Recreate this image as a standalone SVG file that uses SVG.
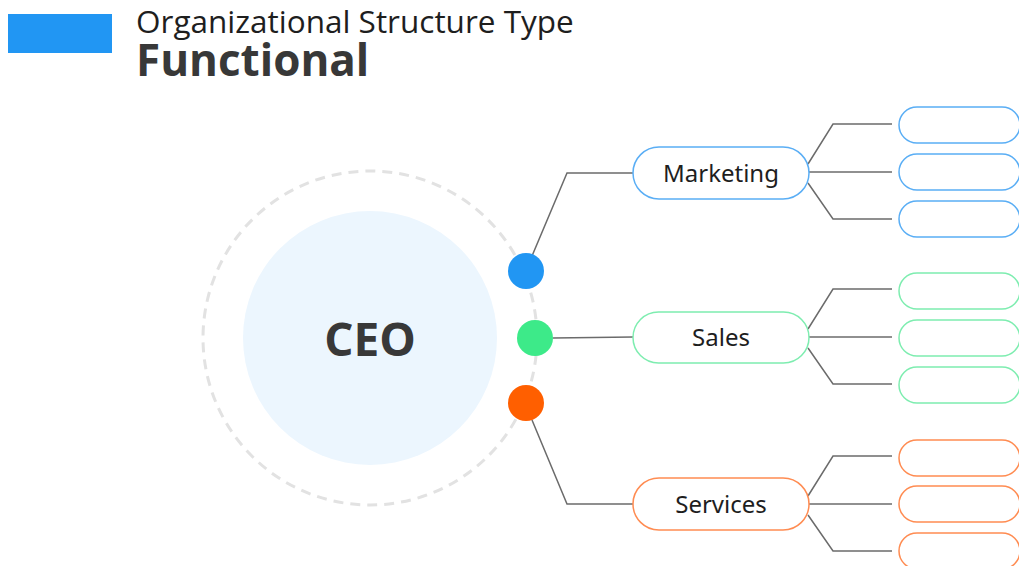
<svg xmlns="http://www.w3.org/2000/svg" width="1019" height="566" viewBox="0 0 1019 566">
<style>
.conn{fill:none;stroke:#6b6b6b;stroke-width:1.5;stroke-linejoin:miter}
.pill{fill:#fff;stroke-width:1.5}
.sub{fill:#fff;stroke-width:1.5}
.blue{stroke:#5aaef5}
.green{stroke:#7eedb0}
.orange{stroke:#ff8c52}
.lbl{font-family:"Noto Sans","Open Sans",sans-serif;font-size:24px;fill:#1e1e1e;text-anchor:middle;dominant-baseline:central}
</style>
<rect width="1019" height="566" fill="#fff"/>
<g id="header">
<rect x="8" y="14" width="104" height="39" fill="#2196f3"/>
<text x="136" y="33" font-family="'Open Sans',sans-serif" font-size="31.5" fill="#1e1e1e">Organizational Structure Type</text>
<text x="136" y="76" font-family="'Open Sans',sans-serif" font-weight="700" font-size="44" fill="#383838">Functional</text>
</g>
<g id="ceo">
<circle cx="370" cy="338" r="167" fill="none" stroke="#e2e2e2" stroke-width="3" stroke-dasharray="10 7"/>
<circle cx="370" cy="338" r="127" fill="#ecf6fe"/>
<text x="370" y="338" font-family="'Open Sans',sans-serif" font-weight="700" font-size="46" fill="#383838" text-anchor="middle" dominant-baseline="central">CEO</text>
</g>
<g id="connectors">
<polyline class="conn" points="532,256 567,173 633,173"/>
<polyline class="conn" points="553,338 633,337"/>
<polyline class="conn" points="532,420 567,504 633,504"/>
<polyline class="conn" points="808,164 833,124 892,124"/>
<polyline class="conn" points="809,172 892,172"/>
<polyline class="conn" points="808,183 833,219 892,219"/>
<polyline class="conn" points="808,329 833,289 892,289"/>
<polyline class="conn" points="809,337 892,337"/>
<polyline class="conn" points="808,348 833,384 892,384"/>
<polyline class="conn" points="808,496 833,456 892,456"/>
<polyline class="conn" points="809,504 892,504"/>
<polyline class="conn" points="808,515 833,551 892,551"/>
</g>
<g id="dot-marketing"><circle cx="526" cy="271" r="18" fill="#2196f3"/></g>
<g id="dot-sales"><circle cx="535" cy="338" r="18" fill="#3dea89"/></g>
<g id="dot-services"><circle cx="526" cy="403" r="18" fill="#ff5f00"/></g>
<g id="marketing">
<rect class="pill blue" x="633" y="147" width="176" height="52" rx="26"/>
<text class="lbl" x="721" y="172">Marketing</text>
</g>
<g id="sales">
<rect class="pill green" x="633" y="312" width="176" height="51" rx="25.5"/>
<text class="lbl" x="721" y="336">Sales</text>
</g>
<g id="services">
<rect class="pill orange" x="633" y="478" width="176" height="52" rx="26"/>
<text class="lbl" x="721" y="503">Services</text>
</g>
<g id="marketing-sub">
<rect class="sub blue" x="899" y="107" width="121" height="36" rx="18"/>
<rect class="sub blue" x="899" y="154" width="121" height="36" rx="18"/>
<rect class="sub blue" x="899" y="201" width="121" height="36" rx="18"/>
</g>
<g id="sales-sub">
<rect class="sub green" x="899" y="273" width="121" height="36" rx="18"/>
<rect class="sub green" x="899" y="320" width="121" height="36" rx="18"/>
<rect class="sub green" x="899" y="367" width="121" height="36" rx="18"/>
</g>
<g id="services-sub">
<rect class="sub orange" x="899" y="440" width="121" height="36" rx="18"/>
<rect class="sub orange" x="899" y="486" width="121" height="36" rx="18"/>
<rect class="sub orange" x="899" y="533" width="121" height="36" rx="18"/>
</g>
</svg>
